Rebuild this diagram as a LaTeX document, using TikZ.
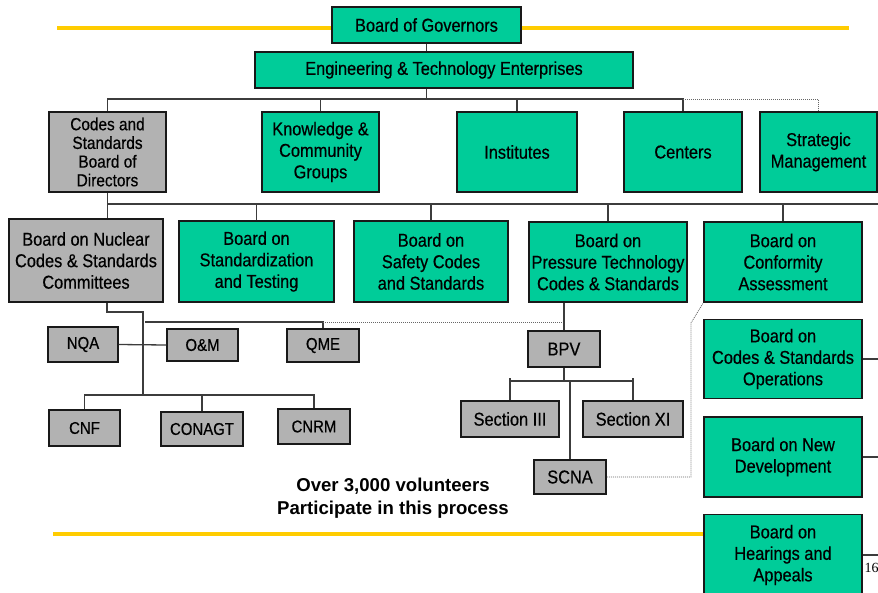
\documentclass[tikz,border=0pt]{standalone}
\usepackage{fontspec}
\setmainfont{Liberation Sans}
\newfontfamily\narrowfont[FakeStretch=0.88, FakeBold=0.5]{Liberation Sans}
\newfontfamily\pagefont{Liberation Serif}
\usetikzlibrary{positioning}

\definecolor{boardgreen}{RGB}{0,204,153}
\definecolor{boardgray}{RGB}{178,178,178}
\definecolor{rulegold}{RGB}{255,204,0}
\definecolor{linkgray}{RGB}{60,60,60}

\begin{document}
\begin{tikzpicture}[x=1pt, y=-1pt, node distance=16pt,
    box/.style={draw=black!90, line width=1.5pt, rectangle, inner sep=1pt, align=center,
        font=\narrowfont\fontsize{18.6}{21.5}\selectfont},
    greenbox/.style={box, fill=boardgreen},
    graybox/.style={box, fill=boardgray},
    smallbox/.style={graybox, font=\narrowfont\fontsize{17}{20}\selectfont},
    link/.style={draw=linkgray, line width=1.3pt},
    dotlink/.style={draw=black!60, line width=0.8pt, dash pattern=on 1pt off 1pt},
    goldrule/.style={draw=rulegold, line width=4pt}]
    \useasboundingbox (0,0) rectangle (878,592);

    \node[greenbox, minimum width=189pt, minimum height=36pt] (gov) at (426.5,25) {Board of Governors};
    \node[greenbox, minimum width=378pt, minimum height=36pt] (ete) at (444,70) {Engineering \& Technology Enterprises};

    \node[graybox, minimum width=117pt, minimum height=80pt, font=\narrowfont\fontsize{17.5}{18.7}\selectfont] (csbd) at (107.5,152) {
        Codes and\\Standards\\Board of\\Directors
    };
    \node[greenbox, minimum width=117pt, minimum height=80pt] (kcg) at (320.5,152) {
        Knowledge \&\\Community\\Groups
    };
    \node[greenbox, minimum width=120pt, minimum height=80pt] (inst) at (517,152) {Institutes};
    \node[greenbox, minimum width=118pt, minimum height=80pt] (cent) at (683,152) {Centers};
    \node[greenbox, minimum width=117pt, minimum height=80pt] (strat) at (818.5,152) {
        Strategic\\Management
    };

    \node[graybox, minimum width=154pt, minimum height=83pt] (nuc) at (86,260.5) {
        Board on Nuclear\\Codes \& Standards\\Committees
    };
    \node[greenbox, minimum width=155pt, minimum height=81pt] (std) at (256.5,261.5) {
        Board on\\Standardization\\and Testing
    };
    \node[greenbox, minimum width=154pt, minimum height=81pt] (safe) at (431,261.5) {
        Board on\\Safety Codes\\and Standards
    };
    \node[greenbox, minimum width=158pt, minimum height=80pt] (press) at (608,262) {
        Board on\\Pressure Technology\\Codes \& Standards
    };
    \node[greenbox, minimum width=158pt, minimum height=80pt] (conf) at (783,262) {
        Board on\\Conformity\\Assessment
    };
    \node[greenbox, minimum width=158pt, minimum height=79pt, below=of conf] (ops) {
        Board on\\Codes \& Standards\\Operations
    };
    \node[greenbox, minimum width=158pt, minimum height=80pt, below=17pt of ops] (newd) {
        Board on New\\Development
    };
    \node[greenbox, minimum width=158pt, minimum height=81pt, below=of newd] (hear) {
        Board on\\Hearings and\\Appeals
    };

    \node[smallbox, minimum width=70pt, minimum height=35pt] (nqa) at (83,344.5) {NQA};
    \node[smallbox, minimum width=71pt, minimum height=32pt] (om) at (202.5,345) {O\&M};
    \node[smallbox, minimum width=72pt, minimum height=33pt] (qme) at (323,345.5) {QME};
    \node[smallbox, minimum width=71pt, minimum height=36pt] (cnf) at (84.5,428) {CNF};
    \node[smallbox, minimum width=82pt, minimum height=34pt] (conagt) at (202,429) {CONAGT};
    \node[smallbox, minimum width=72pt, minimum height=35pt] (cnrm) at (314,426.5) {CNRM};

    \node[graybox, minimum width=72pt, minimum height=36pt] (bpv) at (564,349) {BPV};
    \node[graybox, minimum width=98pt, minimum height=36pt] (sec3) at (510,419) {Section III};
    \node[graybox, minimum width=100pt, minimum height=36pt] (sec11) at (633,419) {Section XI};
    \node[graybox, minimum width=72pt, minimum height=34pt] (scna) at (570,477) {SCNA};

    \node[font=\bfseries\fontsize{18.6}{23}\selectfont, align=center] (note) at (393,498) {
        Over 3,000 volunteers\\Participate in this process
    };
    \node[font=\pagefont\fontsize{14}{16}\selectfont, anchor=base west, inner sep=0pt] (pagenum) at (864.5,572) {16};

    \coordinate (goldtop) at (57,28);
    \coordinate (goldtopend) at (849,28);
    \coordinate (goldbot) at (53,534);
    \draw[goldrule] (goldtop) -- (goldtop -| gov.west);
    \draw[goldrule] (goldtop -| gov.east) -- (goldtopend);
    \draw[goldrule] (goldbot) -- (goldbot -| hear.west);

    \coordinate (topbus) at (0,99);
    \coordinate (midbus) at (0,204);
    \coordinate (rightedge) at (878,0);
    \draw[link] (gov.south) -- (gov.south |- ete.north);
    \draw[link] (gov.south |- ete.south) -- (gov.south |- topbus);
    \draw[link] (csbd.north) |- (cent.north |- topbus) -- (cent.north);
    \draw[link] (kcg.north) -- (kcg.north |- topbus);
    \draw[link] (inst.north) -- (inst.north |- topbus);
    \draw[dotlink] (cent.north |- topbus) -| (strat.north);

    \draw[link] (csbd.south) -- (csbd.south |- nuc.north);
    \draw[link] (csbd.south |- midbus) -- (midbus -| rightedge);
    \draw[link] (std.north) -- (std.north |- midbus);
    \draw[link] (safe.north) -- (safe.north |- midbus);
    \draw[link] (press.north) -- (press.north |- midbus);
    \draw[link] (conf.north) -- (conf.north |- midbus);
    \draw[link] (ops.east) -- (ops.east -| rightedge);
    \draw[link] (newd.east) -- (newd.east -| rightedge);
    \draw[link] (hear.east) -- (hear.east -| rightedge);

    \coordinate (nucdrop) at (107,312);
    \coordinate (nucspine) at (143,312);
    \coordinate (qmebus) at (145,322);
    \coordinate (cnbus) at (143,395);
    \draw[link] (nucdrop |- nuc.south) -- (nucdrop) -- (nucspine) -- (cnbus);
    \draw[link] (qmebus) -| (qme.north);
    \draw[dotlink] (qme.north |- qmebus) -- (bpv.north |- qmebus);
    \draw[link] (nqa.east) -- (om.west);
    \draw[link] (cnf.north) |- (cnrm.north |- cnbus) -- (cnrm.north);
    \draw[link] (conagt.north) -- (conagt.north |- cnbus);

    \coordinate (bpvbus) at (0,381);
    \coordinate (bpvtick) at (0,378);
    \draw[link] (bpv.north |- press.south) -- (bpv.north);
    \draw[link] (bpv.south) -- (bpv.south |- bpvbus);
    \draw[link] (sec3.north |- bpvbus) -- (sec11.north |- bpvbus);
    \draw[link] (sec3.north) -- (sec3.north |- bpvtick);
    \draw[link] (sec11.north) -- (sec11.north |- bpvtick);
    \draw[link] (scna.north) -- (scna.north |- bpvbus);

    \coordinate (confbend) at (691,323);
    \draw[dotlink] (scna.east) -| (confbend) -- (conf.south west);
\end{tikzpicture}
\end{document}
